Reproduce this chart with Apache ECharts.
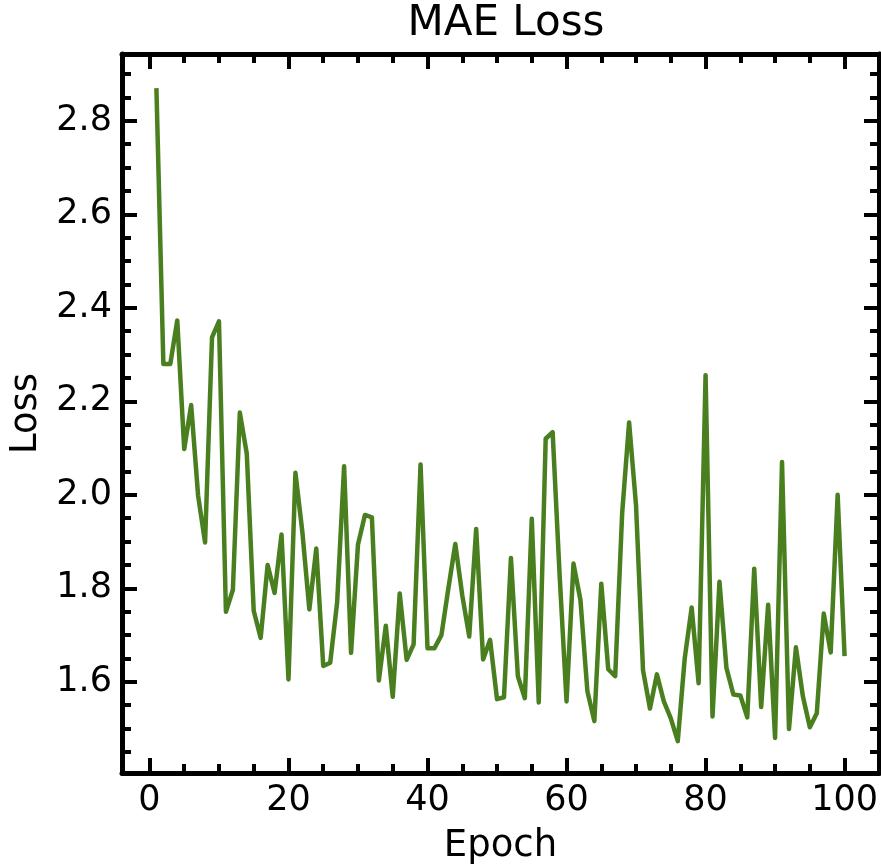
<!DOCTYPE html>
<html>
<head>
<meta charset="utf-8">
<script src="https://cdn.jsdelivr.net/npm/echarts@6/dist/echarts.min.js"></script>
<style>
html,body{margin:0;padding:0;background:#fff;}
#chart{width:881px;height:865px;}
</style>
</head>
<body>
<div id="chart"></div>
<script>
const epochs = [1,2,3,4,5,6,7,8,9,10,11,12,13,14,15,16,17,18,19,20,21,22,23,24,25,26,27,28,29,30,31,32,33,34,35,36,37,38,39,40,41,42,43,44,45,46,47,48,49,50,51,52,53,54,55,56,57,58,59,60,61,62,63,64,65,66,67,68,69,70,71,72,73,74,75,76,77,78,79,80,81,82,83,84,85,86,87,88,89,90,91,92,93,94,95,96,97,98,99,100];
const maeLoss = [2.87,2.28,2.28,2.373,2.098,2.192,1.998,1.898,2.337,2.371,
1.75,1.797,2.176,2.088,1.752,1.694,1.85,1.79,1.915,1.605,
2.047,1.92,1.755,1.885,1.634,1.641,1.77,2.061,1.662,1.894,
1.957,1.952,1.603,1.72,1.568,1.789,1.647,1.68,2.065,1.672,
1.672,1.70,1.80,1.895,1.785,1.697,1.927,1.648,1.69,1.563,
1.567,1.865,1.612,1.565,1.949,1.556,2.12,2.134,1.83,1.558,
1.853,1.775,1.58,1.516,1.81,1.627,1.612,1.96,2.155,1.977,
1.625,1.543,1.616,1.558,1.522,1.473,1.65,1.759,1.597,2.256,
1.526,1.814,1.63,1.573,1.571,1.524,1.842,1.546,1.765,1.48,
2.07,1.499,1.674,1.569,1.503,1.533,1.746,1.663,2.0,1.655];
const xMajorTicks = [0,20,40,60,80,100];
const xMinorTicks = [5,10,15,25,30,35,45,50,55,65,70,75,85,90,95];
const yMajorTicks = [1.6,1.8,2.0,2.2,2.4,2.6,2.8];
const yMinorTicks = [1.45,1.5,1.55,1.65,1.7,1.75,1.85,1.9,1.95,2.05,2.1,2.15,2.25,2.3,2.35,2.45,2.5,2.55,2.65,2.7,2.75,2.85,2.9];
const xRange = [-3.95, 104.95];
const yRange = [1.405, 2.943];

const FONT = 'DejaVu Sans';
const black = '#000';

function xAx(pos, ticks, len, labels, line, name) {
  return {
    type: 'value', position: pos, min: xRange[0], max: xRange[1],
    name: name || '', nameLocation: 'middle', nameGap: 55,
    nameTextStyle: {fontFamily: FONT, fontSize: 37, color: black},
    axisLine: {show: line, onZero: false, lineStyle: {color: black, width: 5}},
    axisTick: {show: true, inside: true, length: len, customValues: ticks, lineStyle: {color: black, width: 4}},
    axisLabel: {show: labels, customValues: ticks, margin: 10, fontFamily: FONT, fontSize: 35, color: black},
    splitLine: {show: false}
  };
}
function yAx(pos, ticks, len, labels, line, name) {
  return {
    type: 'value', position: pos, min: yRange[0], max: yRange[1],
    name: name || '', nameLocation: 'middle', nameGap: 77,
    nameTextStyle: {fontFamily: FONT, fontSize: 37, color: black},
    axisLine: {show: line, onZero: false, lineStyle: {color: black, width: 5}},
    axisTick: {show: true, inside: true, length: len, customValues: ticks, lineStyle: {color: black, width: 4}},
    axisLabel: {show: labels, customValues: ticks, margin: 10, fontFamily: FONT, fontSize: 35, color: black,
      formatter: v => v.toFixed(1)},
    splitLine: {show: false}
  };
}

const chart = echarts.init(document.getElementById('chart'), null, {renderer: 'canvas'});
chart.setOption({
  animation: false,
  backgroundColor: '#fff',
  title: {text: 'MAE Loss', left: 501, textAlign: 'center', top: -2,
    textStyle: {fontFamily: FONT, fontSize: 42, fontWeight: 'normal', color: black}},
  grid: {left: 122, right: 2, top: 54, bottom: 92, containLabel: false, outerBoundsMode: 'none'},
  xAxis: [
    xAx('bottom', xMajorTicks, 15, true, true, 'Epoch'),
    xAx('bottom', xMinorTicks, 9, false, false),
    xAx('top', xMajorTicks, 15, false, true),
    xAx('top', xMinorTicks, 9, false, false)
  ],
  yAxis: [
    yAx('left', yMajorTicks, 15, true, true, 'Loss'),
    yAx('left', yMinorTicks, 9, false, false),
    yAx('right', yMajorTicks, 15, false, true),
    yAx('right', yMinorTicks, 9, false, false)
  ],
  series: [{
    type: 'line', xAxisIndex: 0, yAxisIndex: 0,
    data: epochs.map((e, i) => [e, maeLoss[i]]),
    showSymbol: false, symbol: 'none',
    lineStyle: {color: '#4a7f20', width: 4.5, join: 'round'},
    clip: true
  }]
});
</script>
</body>
</html>
